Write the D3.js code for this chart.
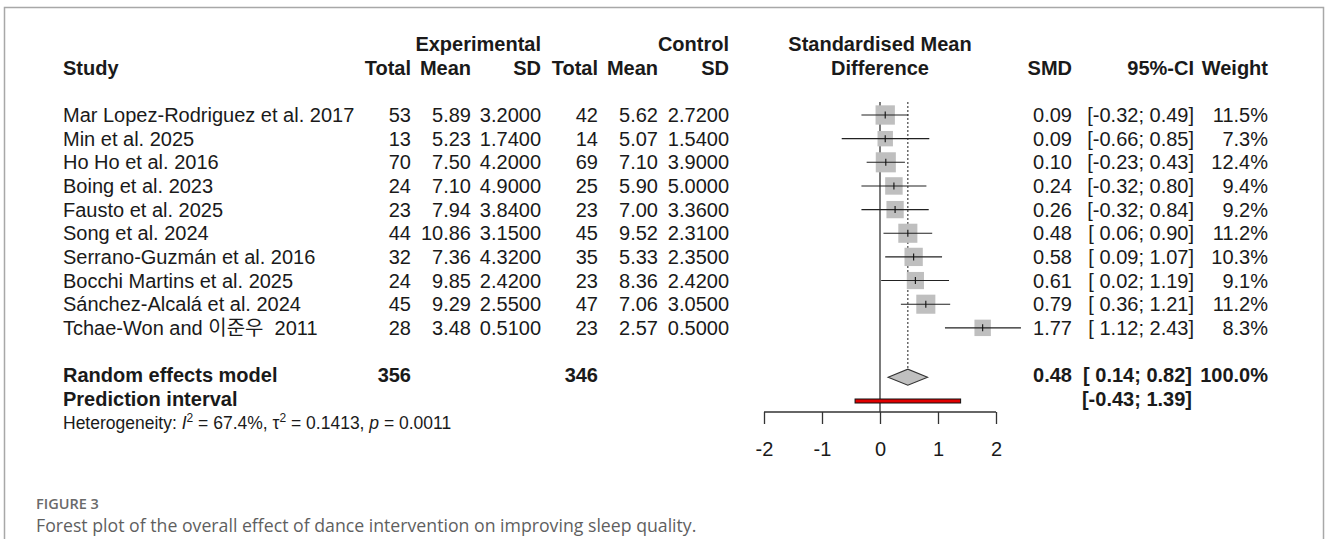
<!DOCTYPE html>
<html>
<head>
<meta charset="utf-8">
<script src="https://cdn.jsdelivr.net/npm/d3@7"></script>
<style>
  body { margin: 0; background: white; }
  svg text { white-space: pre; }
</style>
</head>
<body>
<svg id="chart"></svg>
<script>
var width = 1328, height = 539

// study level data
var studies = ["Mar Lopez-Rodriguez et al. 2017", "Min et al. 2025", "Ho Ho et al. 2016", "Boing et al. 2023",
    "Fausto et al. 2025", "Song et al. 2024", "Serrano-Guzmán et al. 2016", "Bocchi Martins et al. 2025",
    "Sánchez-Alcalá et al. 2024", "Tchae-Won and 이준우  2011"]
var expTotal = [53, 13, 70, 24, 23, 44, 32, 24, 45, 28]
var expMean = [5.89, 5.23, 7.50, 7.10, 7.94, 10.86, 7.36, 9.85, 9.29, 3.48]
var expSD = [3.20, 1.74, 4.20, 4.90, 3.84, 3.15, 4.32, 2.42, 2.55, 0.51]
var ctrlTotal = [42, 14, 69, 25, 23, 45, 35, 23, 47, 23]
var ctrlMean = [5.62, 5.07, 7.10, 5.90, 7.00, 9.52, 5.33, 8.36, 7.06, 2.57]
var ctrlSD = [2.72, 1.54, 3.90, 5.00, 3.36, 2.31, 2.35, 2.42, 3.05, 0.50]
var smd = [0.09, 0.09, 0.10, 0.24, 0.26, 0.48, 0.58, 0.61, 0.79, 1.77]
var ciLow = [-0.32, -0.66, -0.23, -0.32, -0.32, 0.06, 0.09, 0.02, 0.36, 1.12]
var ciHigh = [0.49, 0.85, 0.43, 0.80, 0.84, 0.90, 1.07, 1.19, 1.21, 2.43]
var weight = [11.5, 7.3, 12.4, 9.4, 9.2, 11.2, 10.3, 9.1, 11.2, 8.3]

// pooled results
var pooledTotals = [356, 346]
var pooled = {est: 0.48, lo: 0.14, hi: 0.82}
var predInt = [-0.43, 1.39]
var axisTicks = [-2, -1, 0, 1, 2]

var font = "'Liberation Sans', Arial, 'Noto Sans CJK KR', sans-serif"
var ink = "#1a1a1a"

var svg = d3.select("#chart")
    .attr("width", width)
    .attr("height", height)
    .style("font-family", font)

// frame round the figure
svg.append("rect")
    .attr("x", 4.5).attr("y", 7.5)
    .attr("width", 1319).attr("height", 600)
    .attr("fill", "none")
    .attr("stroke", "#a8a8a8")
    .attr("stroke-width", 1.5)

var x = d3.scaleLinear().domain([-2, 2]).range([764, 996])
var row = d3.scaleLinear().domain([0, 1]).range([115, 138.65])
var size = d3.scaleSqrt().domain([0, 1]).range([0, 5.7])

function txt(xpos, r, s, anchor, bold, fs) {
    return svg.append("text")
        .attr("x", xpos)
        .attr("y", row(r))
        .attr("dy", "0.35em")
        .attr("text-anchor", anchor || "start")
        .attr("font-size", fs || 20)
        .attr("font-weight", bold ? "bold" : "normal")
        .attr("fill", ink)
        .text(s)
}

var cols = {study: 63, eT: 411, eM: 471, eS: 541, cT: 598, cM: 658, cS: 729, smd: 1072, ci: 1194, w: 1268}

// headers
txt(cols.eS, -3, "Experimental", "end", true)
txt(cols.cS, -3, "Control", "end", true)
txt(x(0), -3, "Standardised Mean", "middle", true)
txt(cols.study, -2, "Study", "start", true)
txt(cols.eT, -2, "Total", "end", true)
txt(cols.eM, -2, "Mean", "end", true)
txt(cols.eS, -2, "SD", "end", true)
txt(cols.cT, -2, "Total", "end", true)
txt(cols.cM, -2, "Mean", "end", true)
txt(cols.cS, -2, "SD", "end", true)
txt(x(0), -2, "Difference", "middle", true)
txt(cols.smd, -2, "SMD", "end", true)
txt(cols.ci, -2, "95%-CI", "end", true)
txt(cols.w, -2, "Weight", "end", true)

function fmtCI(lo, hi) {
    return "[" + (lo < 0 ? "" : " ") + lo.toFixed(2) + "; " + hi.toFixed(2) + "]"
}

studies.forEach(function(s, i) {
    txt(cols.study, i, s)
    txt(cols.eT, i, expTotal[i], "end")
    txt(cols.eM, i, expMean[i].toFixed(2), "end")
    txt(cols.eS, i, expSD[i].toFixed(4), "end")
    txt(cols.cT, i, ctrlTotal[i], "end")
    txt(cols.cM, i, ctrlMean[i].toFixed(2), "end")
    txt(cols.cS, i, ctrlSD[i].toFixed(4), "end")
    txt(cols.smd, i, smd[i].toFixed(2), "end")
    txt(cols.ci, i, fmtCI(ciLow[i], ciHigh[i]), "end")
    txt(cols.w, i, weight[i].toFixed(1) + "%", "end")
})

// pooled rows
txt(cols.study, 11, "Random effects model", "start", true)
txt(cols.eT, 11, pooledTotals[0], "end", true)
txt(cols.cT, 11, pooledTotals[1], "end", true)
txt(cols.smd, 11, pooled.est.toFixed(2), "end", true)
txt(cols.ci - 2, 11, fmtCI(pooled.lo, pooled.hi), "end", true)
txt(cols.w, 11, "100.0%", "end", true)
txt(cols.study, 12, "Prediction interval", "start", true)
txt(cols.ci - 2, 12, fmtCI(predInt[0], predInt[1]), "end", true)

// heterogeneity line, superscripts shifted in pixels
var het = txt(cols.study, 13, "Heterogeneity: ", "start", false, 17.5)
het.append("tspan").attr("font-style", "italic").text("I")
het.append("tspan").attr("font-size", 12).attr("dy", -7).text("2")
het.append("tspan").attr("dy", 7).text(" = 67.4%, τ")
het.append("tspan").attr("font-size", 12).attr("dy", -7).text("2")
het.append("tspan").attr("dy", 7).text(" = 0.1413, ")
het.append("tspan").attr("font-style", "italic").text("p")
het.append("tspan").text(" = 0.0011")

// forest: reference lines
var axisY = 412
svg.append("line")
    .attr("x1", x(0)).attr("x2", x(0))
    .attr("y1", 102).attr("y2", axisY)
    .attr("stroke", "#222").attr("stroke-width", 1.2)
svg.append("line")
    .attr("x1", x(pooled.est)).attr("x2", x(pooled.est))
    .attr("y1", 102).attr("y2", row(11) - 6)
    .attr("stroke", "#333").attr("stroke-width", 1.1)
    .attr("stroke-dasharray", "2,2")

// squares
svg.selectAll("rect.sq")
    .data(smd)
    .enter().append("rect")
    .attr("class", "sq")
    .attr("x", function(d, i) { return x(d) - size(weight[i]) / 2 })
    .attr("y", function(d, i) { return row(i) - size(weight[i]) / 2 })
    .attr("width", function(d, i) { return size(weight[i]) })
    .attr("height", function(d, i) { return size(weight[i]) })
    .attr("fill", "#bfbfbf")

// CI lines and estimate ticks
svg.selectAll("line.ci")
    .data(smd)
    .enter().append("line")
    .attr("class", "ci")
    .attr("x1", function(d, i) { return x(ciLow[i]) })
    .attr("x2", function(d, i) { return x(ciHigh[i]) })
    .attr("y1", function(d, i) { return row(i) })
    .attr("y2", function(d, i) { return row(i) })
    .attr("stroke", "#222").attr("stroke-width", 1.1)
svg.selectAll("line.est")
    .data(smd)
    .enter().append("line")
    .attr("class", "est")
    .attr("x1", function(d) { return x(d) })
    .attr("x2", function(d) { return x(d) })
    .attr("y1", function(d, i) { return row(i) - 3.5 })
    .attr("y2", function(d, i) { return row(i) + 3.5 })
    .attr("stroke", "#111").attr("stroke-width", 1.1)

// diamond
var dy = row(11) + 2
svg.append("path")
    .attr("d", "M" + x(pooled.lo) + "," + dy + "L" + x(pooled.est) + "," + (dy - 8) +
        "L" + x(pooled.hi) + "," + dy + "L" + x(pooled.est) + "," + (dy + 8) + "Z")
    .attr("fill", "#c0c0c0")
    .attr("stroke", "#333").attr("stroke-width", 1.1)

// prediction interval bar
svg.append("rect")
    .attr("x", x(predInt[0])).attr("y", 399)
    .attr("width", x(predInt[1]) - x(predInt[0])).attr("height", 4)
    .attr("fill", "#e00000")
    .attr("stroke", "#111").attr("stroke-width", 1)

// x axis
var axis = svg.append("g")
    .attr("transform", "translate(0," + axisY + ")")
    .call(d3.axisBottom(x).tickValues(axisTicks).tickSize(12).tickPadding(18).tickFormat(d3.format("d")))
axis.select(".domain").attr("d", "M" + x(-2) + ",0H" + x(2)).attr("stroke", "#333").attr("stroke-width", 1.3)
axis.selectAll(".tick line").attr("stroke", "#333").attr("stroke-width", 1.3)
axis.selectAll(".tick text")
    .attr("font-family", font)
    .attr("font-size", 20)
    .attr("fill", ink)
    .text(function(d) { return d < 0 ? "-" + Math.abs(d) : d })

// caption
svg.append("text")
    .attr("x", 36).attr("y", 509)
    .attr("font-family", "'Open Sans', sans-serif")
    .attr("font-size", 14.5).attr("font-weight", 600)
    .attr("fill", "#6a6a6a")
    .text("FIGURE 3")
svg.append("text")
    .attr("x", 36).attr("y", 532)
    .attr("font-family", "'Open Sans', sans-serif")
    .attr("font-size", 17.7)
    .attr("fill", "#5f5f5f")
    .text("Forest plot of the overall effect of dance intervention on improving sleep quality.")
</script>
</body>
</html>
